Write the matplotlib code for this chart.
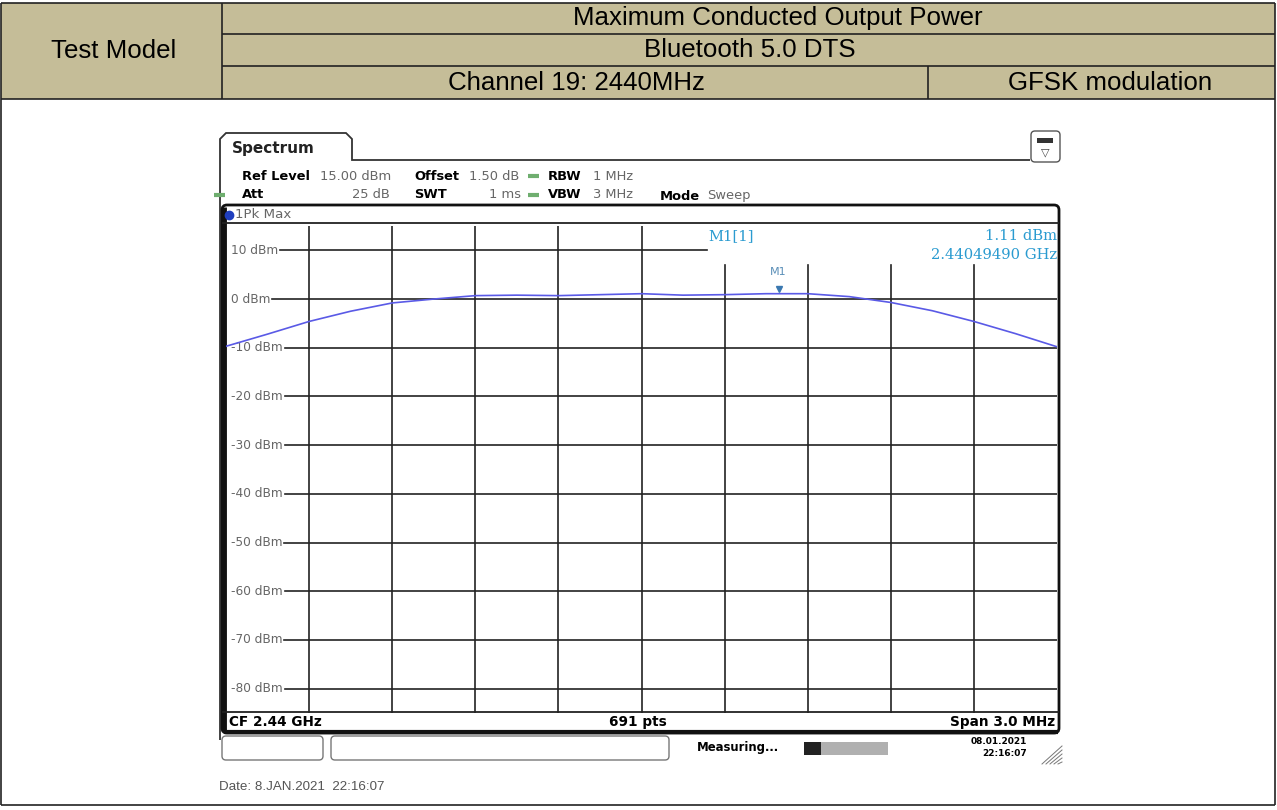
import matplotlib
matplotlib.use("Agg")
from matplotlib import pyplot as plt
from matplotlib.patches import FancyBboxPatch, Rectangle, Polygon

W, H = 1277, 810

# table header
header_title = "Maximum Conducted Output Power"
header_mode = "Bluetooth 5.0 DTS"
header_channel = "Channel 19: 2440MHz"
header_mod = "GFSK modulation"
header_left = "Test Model"

# trace (MHz, dBm)
freq_mhz = [2438.50, 2438.65, 2438.80, 2438.95, 2439.10, 2439.25, 2439.40,
            2439.55, 2439.70, 2439.85, 2440.00, 2440.15, 2440.30, 2440.45,
            2440.60, 2440.75, 2440.90, 2441.05, 2441.20, 2441.35, 2441.50]
level_dbm = [-9.7, -7.2, -4.6, -2.5, -0.8, 0.0, 0.7, 0.8, 0.7, 0.9, 1.1,
             0.8, 0.9, 1.1, 1.1, 0.5, -0.7, -2.4, -4.6, -7.1, -9.8]

y_levels = [10, 0, -10, -20, -30, -40, -50, -60, -70, -80]
x_grid = [2438.8, 2439.1, 2439.4, 2439.7, 2440.0, 2440.3, 2440.6, 2440.9, 2441.2]
marker_f = 2440.4949
marker_lvl = 1.11

ref_level, bottom_level = 15, -85
f_start, f_stop = 2438.5, 2441.5

fig = plt.figure(figsize=(W / 100, H / 100), dpi=100)
bg = fig.add_axes([0, 0, 1, 1])
bg.set_xlim(0, W)
bg.set_ylim(H, 0)
bg.axis("off")

khaki = "#c5bd98"
txt_font = "Liberation Sans"
rs_font = "DejaVu Sans"


def hline(y, x0, x1, lw=1.2, c="#222222"):
    bg.plot([x0, x1], [y, y], color=c, lw=lw, solid_capstyle="butt")


def vline(x, y0, y1, lw=1.2, c="#222222"):
    bg.plot([x, x], [y0, y1], color=c, lw=lw, solid_capstyle="butt")


# --- table ---
bg.add_patch(Rectangle((1, 3), 1274, 96, facecolor=khaki, edgecolor="none"))
hline(3, 1, 1275)
hline(34, 222, 1275)
hline(66, 222, 1275)
hline(99, 1, 1275)
hline(805, 1, 1275)
vline(1, 3, 805)
vline(1275, 3, 805)
vline(222, 3, 99)
vline(928, 66, 99)
fs = 18.6
bg.text(114, 51, header_left, ha="center", va="center", fontsize=fs, family=txt_font)
bg.text(778, 18, header_title, ha="center", va="center", fontsize=fs, family=txt_font)
bg.text(750, 50, header_mode, ha="center", va="center", fontsize=fs, family=txt_font)
bg.text(576, 83, header_channel, ha="center", va="center", fontsize=fs, family=txt_font)
bg.text(1110, 83, header_mod, ha="center", va="center", fontsize=fs, family=txt_font)

# --- analyzer window ---
tab = Polygon([(220, 740), (220, 139), (226, 133), (346, 133), (352, 139),
               (352, 160), (1030, 160)], closed=False, fill=False,
              edgecolor="#333333", lw=1.3)
bg.add_patch(tab)
bg.text(232, 149, "Spectrum", fontsize=11, fontweight="bold", family=rs_font,
        va="center", color="#222222")

# icon top right
bg.add_patch(FancyBboxPatch((1031, 131), 29, 31, boxstyle="round,pad=0,rounding_size=4",
                            fill=False, edgecolor="#555555", lw=1))
bg.add_patch(Rectangle((1037, 138), 16, 5, facecolor="#333333", edgecolor="none"))
bg.text(1045, 152, "\u25bd", ha="center", va="center", fontsize=8, color="#444444")

# settings rows
gray = "#666666"
r1, r2 = 176, 195
sfs = 9.4
bg.text(242, r1, "Ref Level", fontsize=sfs, fontweight="bold", family=rs_font, va="center")
bg.text(320, r1, "15.00 dBm", fontsize=sfs, color=gray, family=rs_font, va="center")
bg.text(414, r1, "Offset", fontsize=sfs, fontweight="bold", family=rs_font, va="center")
bg.text(469, r1, "1.50 dB", fontsize=sfs, color=gray, family=rs_font, va="center")
bg.text(548, r1, "RBW", fontsize=sfs, fontweight="bold", family=rs_font, va="center")
bg.text(593, r1, "1 MHz", fontsize=sfs, color=gray, family=rs_font, va="center")
bg.text(242, r2, "Att", fontsize=sfs, fontweight="bold", family=rs_font, va="center")
bg.text(390, r2, "25 dB", fontsize=sfs, color=gray, family=rs_font, va="center", ha="right")
bg.text(414, r2, "SWT", fontsize=sfs, fontweight="bold", family=rs_font, va="center")
bg.text(521, r2, "1 ms", fontsize=sfs, color=gray, family=rs_font, va="center", ha="right")
bg.text(548, r2, "VBW", fontsize=sfs, fontweight="bold", family=rs_font, va="center")
bg.text(593, r2, "3 MHz", fontsize=sfs, color=gray, family=rs_font, va="center")
bg.text(660, r2 + 1, "Mode", fontsize=sfs, fontweight="bold", family=rs_font, va="center")
bg.text(707, r2 + 1, "Sweep", fontsize=sfs, color=gray, family=rs_font, va="center")
for gx, gy in [(528, r1), (528, r2), (214, r2)]:
    hline(gy, gx, gx + 11, lw=3, c="#6fae6f")

# inner frame
bg.add_patch(FancyBboxPatch((222, 205), 837, 528, boxstyle="round,pad=0,rounding_size=5",
                            fill=False, edgecolor="#111111", lw=2))
vline(223.5, 207, 731, lw=3.5, c="#111111")
hline(732, 224, 1058, lw=3, c="#111111")
hline(223, 222, 1059, lw=1.3)
hline(712, 222, 1059, lw=1.3)
bg.plot([229], [215], "o", color="#1f3fbf", ms=6, zorder=5)
bg.text(235, 215, "1Pk Max", fontsize=9.6, color=gray, family=rs_font, va="center")
bg.text(229, 722, "CF 2.44 GHz", fontsize=9.8, fontweight="bold", family=rs_font, va="center")
bg.text(638, 722, "691 pts", fontsize=9.8, fontweight="bold", family=rs_font, va="center", ha="center")
bg.text(1055, 722, "Span 3.0 MHz", fontsize=9.8, fontweight="bold", family=rs_font, va="center", ha="right")

# marker readout
mcol = "#2a9bd0"
bg.text(708, 236, "M1[1]", fontsize=10.6, color=mcol, family="DejaVu Serif", va="center")
bg.text(1057, 236, "%.2f dBm" % marker_lvl, fontsize=10.6, color=mcol, family="DejaVu Serif",
        va="center", ha="right")
bg.text(1057, 255, "%.8f GHz" % (marker_f / 1000), fontsize=10.6, color=mcol,
        family="DejaVu Serif", va="center", ha="right")

# status bar
bg.add_patch(FancyBboxPatch((222, 736), 101, 24, boxstyle="round,pad=0,rounding_size=4",
                            fill=False, edgecolor="#777777", lw=1))
bg.add_patch(FancyBboxPatch((331, 736), 338, 24, boxstyle="round,pad=0,rounding_size=4",
                            fill=False, edgecolor="#777777", lw=1))
bg.text(697, 748, "Measuring...", fontsize=8.4, fontweight="bold", family=rs_font, va="center")
bg.add_patch(Rectangle((804, 742), 84, 13, facecolor="#b0b0b0", edgecolor="none"))
bg.add_patch(Rectangle((804, 742), 17, 13, facecolor="#222222", edgecolor="none"))
bg.text(1027, 742, "08.01.2021", fontsize=6.5, fontweight="bold", family=rs_font,
        va="center", ha="right")
bg.text(1027, 754, "22:16:07", fontsize=6.5, fontweight="bold", family=rs_font,
        va="center", ha="right")
for k in range(5):
    bg.plot([1042 + k * 4, 1062], [764, 746 + k * 4], color="#777777", lw=0.7)

bg.text(219, 787, "Date: 8.JAN.2021  22:16:07", fontsize=9.6, color="#555555",
        family=txt_font, va="center")

# --- trace axes ---
ax = fig.add_axes([226 / W, 1 - 713 / H, 831 / W, 487 / H])
ax.set_xlim(f_start, f_stop)
ax.set_ylim(bottom_level, ref_level)
ax.axis("off")
ax.patch.set_alpha(0)

x_cut = 2440.236
labels = []
for lv in y_levels:
    t = ax.text(0.006, lv, "%d dBm" % lv, transform=ax.get_yaxis_transform(),
                fontsize=8.7, color=gray, family=rs_font, va="center", zorder=2)
    labels.append((lv, t))

fig.canvas.draw()
renderer = fig.canvas.get_renderer()
for lv, t in labels:
    bb = t.get_window_extent(renderer)
    x_begin = ax.transData.inverted().transform((bb.x1 + 2, 0))[0]
    x_end = x_cut if lv == 10 else f_stop
    ax.plot([x_begin, x_end], [lv, lv], color="#222222", lw=1.2, zorder=1)
for xf in x_grid:
    top = 7.0 if xf > x_cut else ref_level
    ax.plot([xf, xf], [bottom_level, top], color="#222222", lw=1.2, zorder=1)

ax.plot(freq_mhz, level_dbm, color="#5a5ae6", lw=1.2, zorder=3)
ax.plot([marker_f], [marker_lvl + 0.9], marker="v", color="#3a78b0", ms=5, zorder=4)
ax.text(marker_f, marker_lvl + 4.5, "M1", fontsize=8, color="#5a8fb8",
        family=rs_font, ha="center", va="center")

fig.savefig("out.png", dpi=100)
